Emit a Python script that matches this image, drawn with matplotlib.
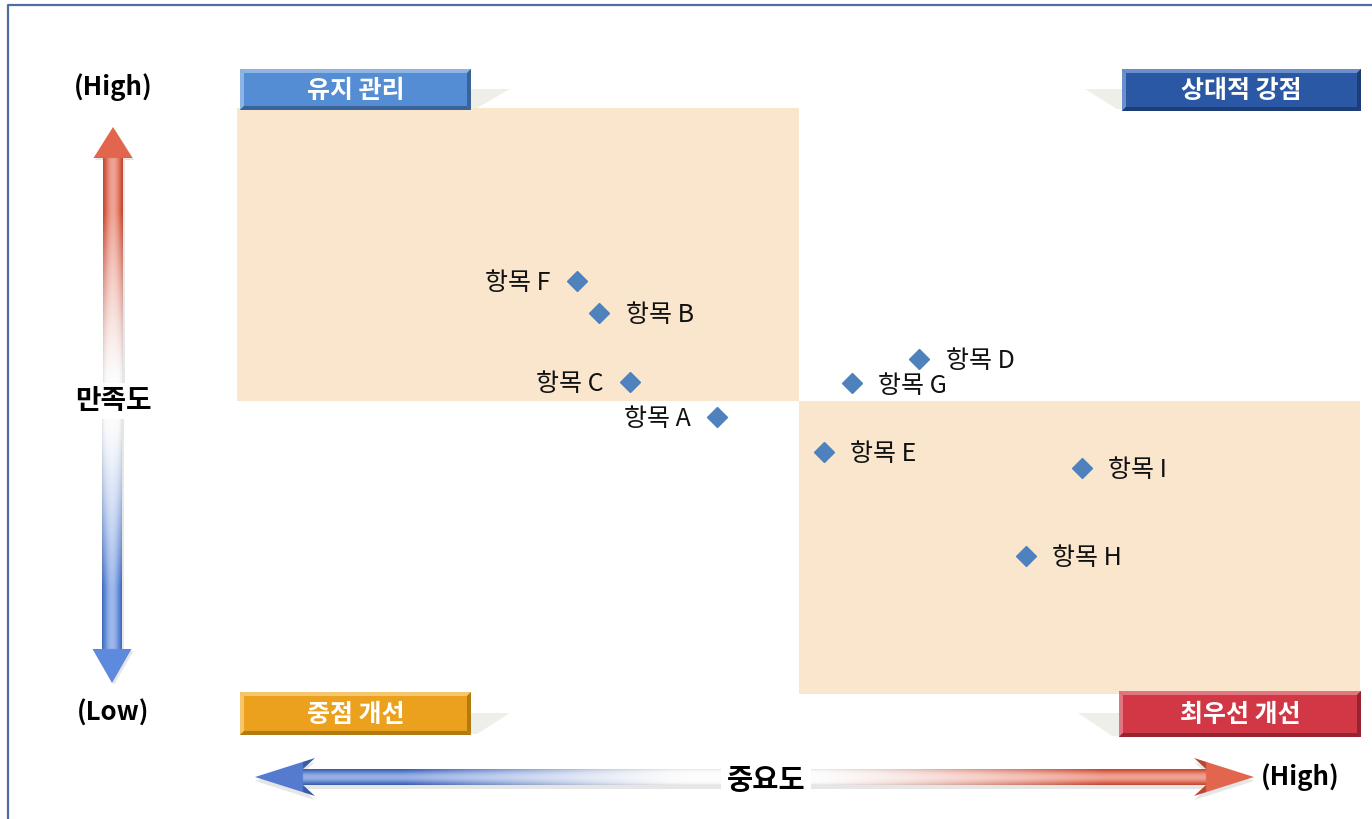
import numpy as np
import matplotlib
matplotlib.use('Agg')
import matplotlib.pyplot as plt
from matplotlib.patches import Polygon, Rectangle

# ---------------- data ----------------
items = ['항목 A', '항목 B', '항목 C', '항목 D', '항목 E', '항목 F', '항목 G', '항목 H', '항목 I']
importance = [2.71, 2.29, 2.40, 3.43, 3.09, 2.21, 3.19, 3.81, 4.01]
satisfaction = [2.89, 3.60, 3.13, 3.29, 2.65, 3.82, 3.12, 1.94, 2.54]
label_side = ['left', 'right', 'left', 'right', 'right', 'left', 'right', 'right', 'right']
quadrant_names = ['유지 관리', '상대적 강점', '중점 개선', '최우선 개선']
y_axis_title = '만족도'
x_axis_title = '중요도'
high_text = '(High)'
low_text = '(Low)'
scale_min, scale_mid, scale_max = 1, 3, 5

KR = ['Noto Sans CJK KR', 'DejaVu Sans']
plt.rcParams['font.family'] = KR

W, H = 1372, 819
fig = plt.figure(figsize=(W / 100, H / 100), dpi=100)
fig.patch.set_facecolor('white')

# ---------------- main quadrant axes ----------------
ax = fig.add_axes([237 / W, 1 - 694 / H, (1360 - 237) / W, (694 - 108) / H])
ax.set_xlim(scale_min, scale_max)
ax.set_ylim(scale_min, scale_max)
ax.axis('off')
peach = '#FAE6CD'
ax.add_patch(Rectangle((scale_min, scale_mid), scale_mid - scale_min, scale_max - scale_mid,
                       facecolor=peach, lw=0, zorder=0))
ax.add_patch(Rectangle((scale_mid, scale_min), scale_max - scale_mid, scale_mid - scale_min,
                       facecolor=peach, lw=0, zorder=0))
ax.plot(importance, satisfaction, 'D', ms=10, color='#4F81BD', ls='none', zorder=3)
for name, x, y, side in zip(items, importance, satisfaction, label_side):
    off = -19 if side == 'left' else 19
    ax.annotate(name, (x, y), xytext=(off, -1.5), textcoords='offset points',
                ha='right' if side == 'left' else 'left', va='center',
                fontsize=18, color='#111111', family=KR)

# ---------------- overlay for decorations ----------------
ov = fig.add_axes([0, 0, 1, 1], zorder=5)
ov.axis('off')
ov.patch.set_alpha(0)


def bevel_box(x0, y0, x1, y1, face, light, dark, text, b=4):
    ov.add_patch(Rectangle((x0, y0), x1 - x0, y1 - y0, facecolor=face, lw=0, zorder=3))
    ov.add_patch(Polygon([(x0, y0), (x1, y0), (x1 - b, y0 + b), (x0 + b, y0 + b)],
                         facecolor=light, lw=0, zorder=4))
    ov.add_patch(Polygon([(x0, y0), (x0 + b, y0 + b), (x0 + b, y1 - b), (x0, y1)],
                         facecolor=light, lw=0, zorder=4))
    ov.add_patch(Polygon([(x0, y1), (x0 + b, y1 - b), (x1 - b, y1 - b), (x1, y1)],
                         facecolor=dark, lw=0, zorder=4))
    ov.add_patch(Polygon([(x1, y0), (x1, y1), (x1 - b, y1 - b), (x1 - b, y0 + b)],
                         facecolor=dark, lw=0, zorder=4))
    ov.text((x0 + x1) / 2, (y0 + y1) / 2 + 1, text, ha='center', va='center', color='white',
            fontsize=18, fontweight='bold', family=KR, zorder=5)


def shadow(pts):
    ov.add_patch(Polygon(pts, facecolor='#EFEFEA', lw=0, zorder=2))


# shadows
shadow([(470, 89), (510, 89), (477, 108), (470, 108)])
shadow([(1123, 89), (1085, 89), (1117, 109), (1123, 109)])
shadow([(470, 713), (510, 713), (477, 734), (470, 734)])
shadow([(1119, 713), (1078, 713), (1112, 736), (1119, 736)])

bevel_box(240, 69, 471, 110, '#548DD4', '#8DB4E2', '#3A6499', quadrant_names[0])
bevel_box(1122, 69, 1361, 111, '#2B58A4', '#6A8FCB', '#1D3D75', quadrant_names[1])
bevel_box(240, 692, 471, 735, '#EBA11D', '#F4C66E', '#B47A12', quadrant_names[2])
bevel_box(1119, 691, 1361, 737, '#D13744', '#E27680', '#962430', quadrant_names[3])


def grad_arrow(tip, direction, length, shaft_w, head_w, head_len, notch, rgb,
               solid_len, fade_len, shadow_off=(2, 3)):
    tx, ty = tip
    dx, dy = direction
    px, py = -dy, dx

    def P(u, v):
        return (tx + dx * u + px * v, ty + dy * u + py * v)

    pts = [P(0, 0), P(head_len, head_w / 2), P(head_len - notch, shaft_w / 2),
           P(length, shaft_w / 2), P(length, -shaft_w / 2),
           P(head_len - notch, -shaft_w / 2), P(head_len, -head_w / 2)]
    sp = [(x + shadow_off[0], y + shadow_off[1]) for x, y in pts]
    ov.add_patch(Polygon(sp, facecolor='#C8C8C8', alpha=0.45, lw=0, zorder=1))

    xs = [p[0] for p in pts]
    ys = [p[1] for p in pts]
    x0, x1 = np.floor(min(xs)) - 1, np.ceil(max(xs)) + 1
    y0, y1 = np.floor(min(ys)) - 1, np.ceil(max(ys)) + 1
    nx, ny = int((x1 - x0) * 2), int((y1 - y0) * 2)
    X, Y = np.meshgrid(np.linspace(x0, x1, nx), np.linspace(y0, y1, ny))
    U = (X - tx) * dx + (Y - ty) * dy
    V = (X - tx) * px + (Y - ty) * py
    f = np.clip(1 - (U - solid_len) / fade_len, 0, 1)
    f = f ** 1.3
    base = np.array(rgb) / 255.0
    s = np.clip(np.abs(V) / (shaft_w / 2), 0, 1)
    in_shaft = U > head_len - notch
    hl = np.where(in_shaft, 0.45 * (1 - s ** 2) ** 2, 0.08)
    col = base[None, None, :] * (1 - hl[..., None]) + hl[..., None]
    dk = np.where(in_shaft, 0.18 * s ** 4, 0.0)
    col = col * (1 - dk[..., None])
    fade = np.where(in_shaft, 1 - 0.10 * s ** 6, 1.0)
    fade_col = np.stack([fade, fade, fade], axis=-1) * 0.99
    final = col * f[..., None] + fade_col * (1 - f[..., None])
    clip = Polygon(pts, closed=True, transform=ov.transData, facecolor='none', edgecolor='none')
    im = ov.imshow(final, extent=(x0, x1, y1, y0), origin='upper', aspect='auto',
                   interpolation='bilinear', zorder=2)
    im.set_clip_path(clip)


# vertical arrows (satisfaction)
grad_arrow((113, 127), (0, 1), 262, 20, 39, 31, 0, (224, 88, 62), 85, 170, (2, 2))
grad_arrow((112, 683), (0, -1), 272, 20, 39, 34, 0, (80, 128, 218), 95, 170, (2, 2))
# horizontal arrows (importance)
grad_arrow((255, 777), (1, 0), 470, 16, 38, 60, 12, (70, 112, 204), 150, 280, (0, 4))
grad_arrow((1254, 777), (-1, 0), 450, 16, 38, 60, 12, (224, 88, 62), 150, 290, (0, 4))

# axis texts
bold = dict(fontweight='bold', family=KR, color='black', zorder=6)
ov.text(113, 87, high_text, ha='center', va='center', fontsize=18.5, **bold)
ov.text(113, 713, low_text, ha='center', va='center', fontsize=18.5, **bold)
ov.text(113, 401, y_axis_title, ha='center', va='center', fontsize=20,
        bbox=dict(facecolor='white', edgecolor='none', pad=3), **bold)
ov.text(766, 781, x_axis_title, ha='center', va='center', fontsize=20.5,
        bbox=dict(facecolor='white', edgecolor='none', pad=4), **bold)
ov.text(1300, 777, high_text, ha='center', va='center', fontsize=18.5, **bold)

# frame
ov.plot([8, 8, W], [H, 5, 5], color='#4F6FA0', lw=1.6, zorder=7, solid_capstyle='butt')

ov.set_xlim(0, W)
ov.set_ylim(H, 0)

fig.savefig('out.png', dpi=100, facecolor='white')
